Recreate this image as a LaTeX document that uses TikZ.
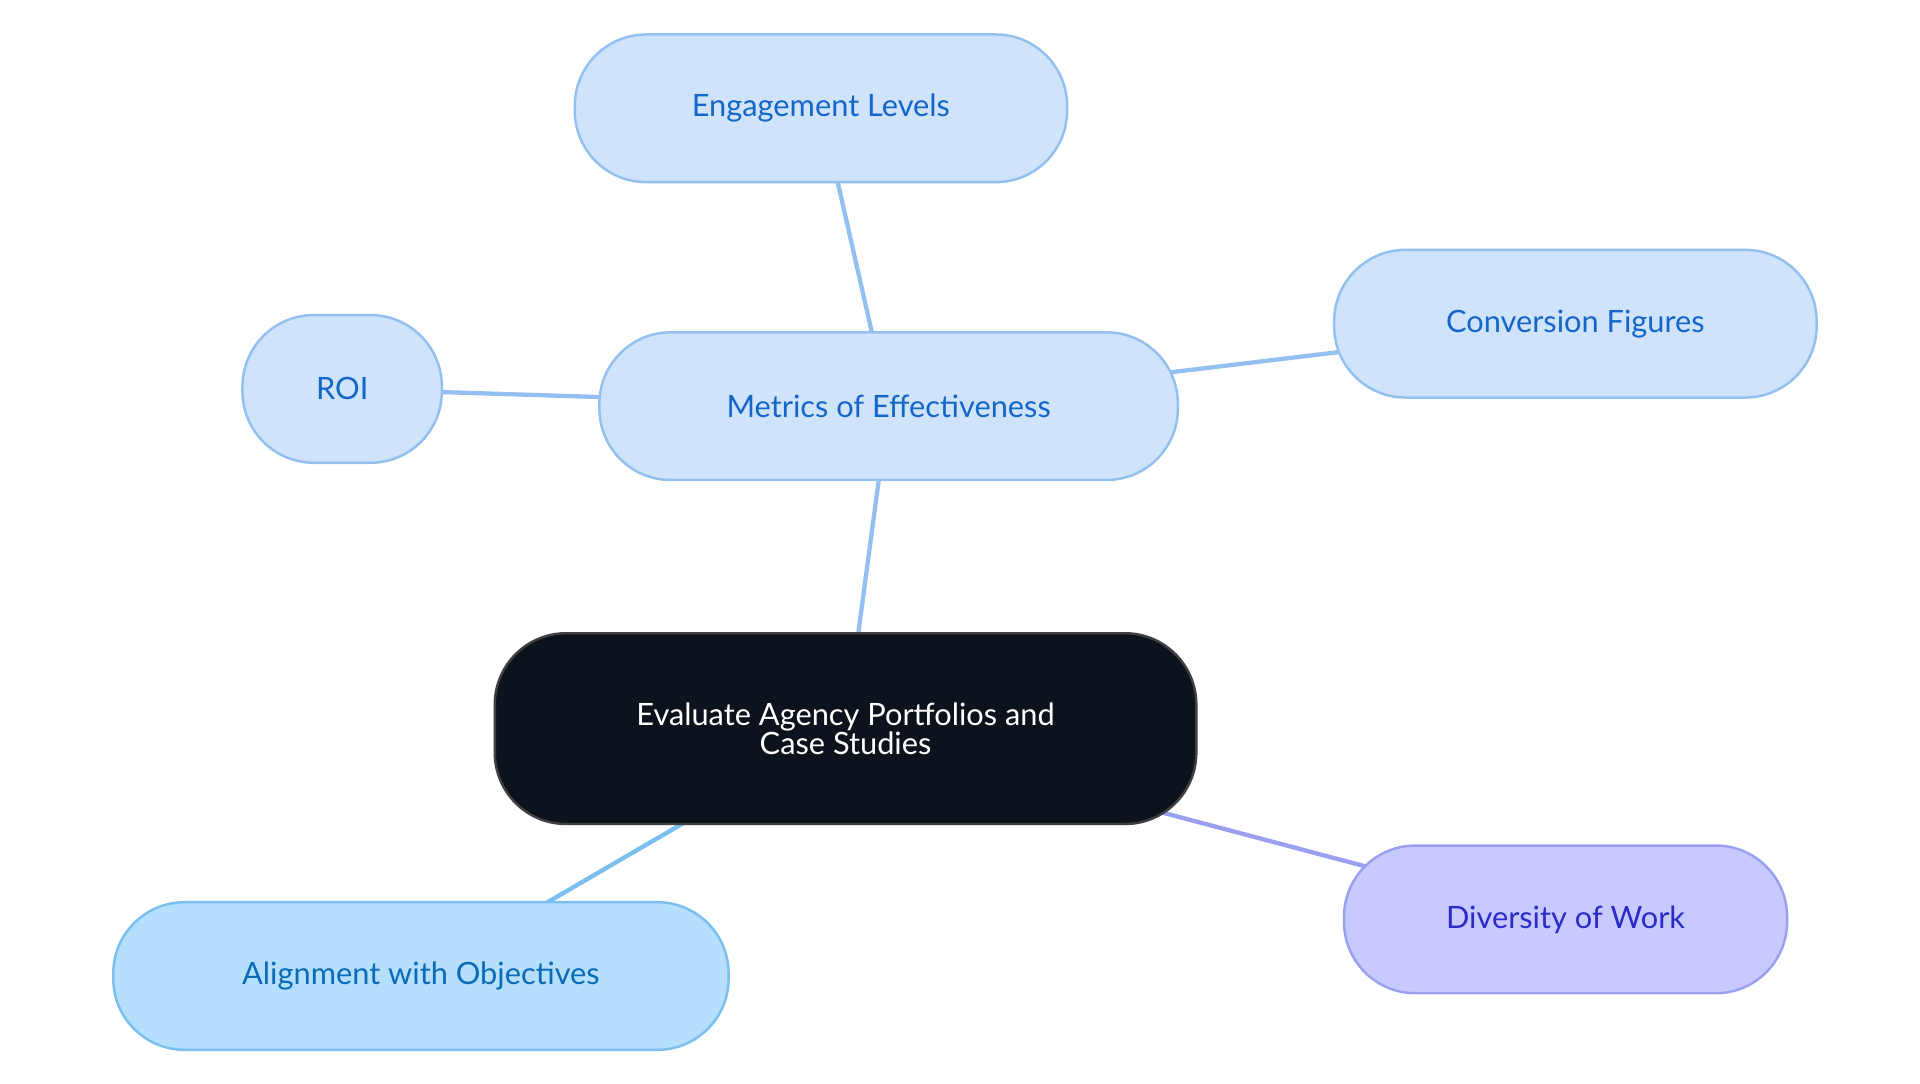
\documentclass[tikz,border=0pt]{standalone}
\usepackage{fontspec}
\setmainfont{Lato}
\usetikzlibrary{backgrounds}
\definecolor{lbfill}{HTML}{CFE3FB}
\definecolor{lbline}{HTML}{94C0F0}
\definecolor{lbtext}{HTML}{1466C8}
\definecolor{abfill}{HTML}{B5DFFD}
\definecolor{abline}{HTML}{7BBFEE}
\definecolor{abtext}{HTML}{0A6BB8}
\definecolor{pfill}{HTML}{C8CAFF}
\definecolor{pline}{HTML}{9A9FF0}
\definecolor{ptext}{HTML}{2B2BC9}
\definecolor{dark}{HTML}{0D131C}
\begin{document}
\begin{tikzpicture}[x=1pt,y=-1pt,
  box/.style={draw=lbline,fill=lbfill,text=lbtext,line width=2pt,rounded corners=58pt,minimum height=120pt,font=\fontsize{25}{28}\selectfont,inner sep=0pt},
  edge/.style={draw=lbline,line width=3.5pt}]
\useasboundingbox (0,0) rectangle (1560,880);
\node[box,minimum width=570pt,minimum height=155pt,fill=dark,draw=black!75,text=white,align=center] (c) at (687,592) {Evaluate Agency Portfolios and\\[-4pt]Case Studies};
\node[box,minimum width=470pt] (m) at (722,330) {Metrics of Effectiveness};
\node[box,minimum width=400pt] (e) at (667,88) {Engagement Levels};
\node[box,minimum width=392pt] (cf) at (1280,263) {Conversion Figures};
\node[box,minimum width=162pt] (r) at (278,316) {ROI};
\node[box,minimum width=500pt,fill=abfill,draw=abline,text=abtext] (a) at (342,793) {Alignment with Objectives};
\node[box,minimum width=360pt,fill=pfill,draw=pline,text=ptext] (d) at (1272,747) {Diversity of Work};
\begin{scope}[on background layer]
\draw[edge] (c.center) -- (m.center);
\draw[edge] (m.center) -- (e.center);
\draw[edge] (m.center) -- (cf.center);
\draw[edge] (m.center) -- (r.center);
\draw[edge,draw=abline] (c.center) -- (a.center);
\draw[edge,draw=pline] (c.center) -- (d.center);
\end{scope}
\end{tikzpicture}
\end{document}
